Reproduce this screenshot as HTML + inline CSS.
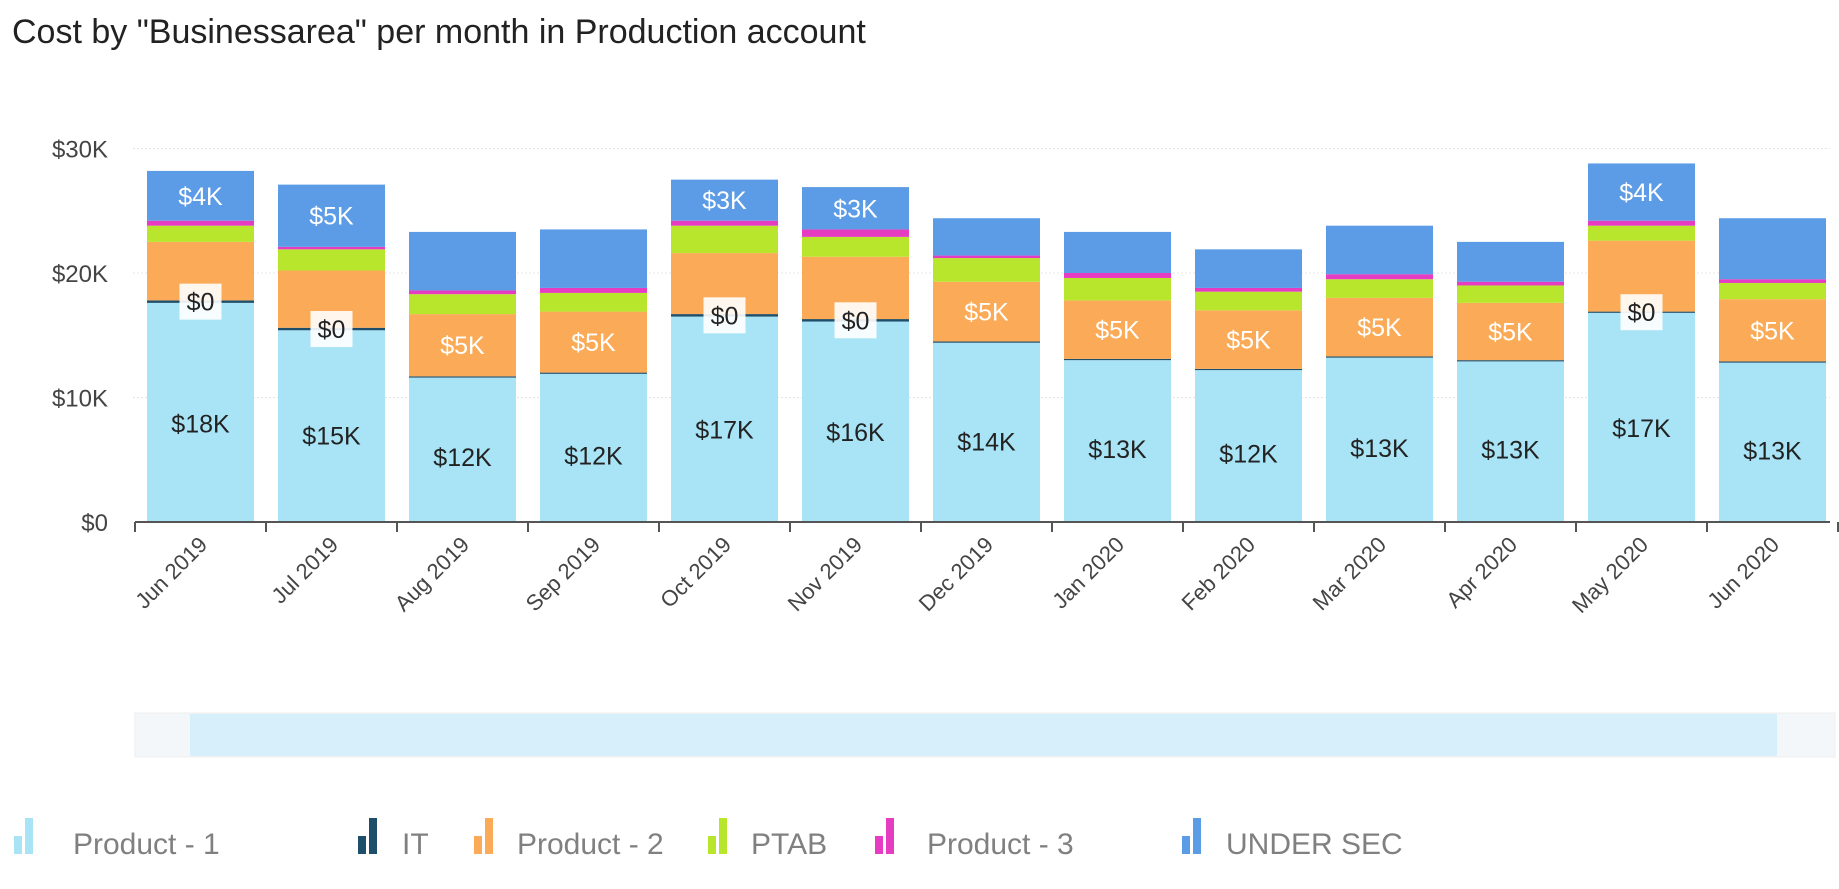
<!DOCTYPE html>
<html><head><meta charset="utf-8"><style>
body{margin:0;background:#fff;width:1839px;height:884px;overflow:hidden;font-family:"Liberation Sans",sans-serif}
</style></head><body>
<svg id="c" width="1839" height="884" xmlns="http://www.w3.org/2000/svg">
<text x="12" y="43" font-size="34" fill="#222">Cost by "Businessarea" per month in Production account</text>
<g id="g"></g>
<g id="lab"></g>
<g>
<rect x="135" y="713" width="1700" height="44" fill="#f4f7f9" stroke="#eee"/>
<rect x="190" y="714" width="1587" height="42" fill="#d6effb"/>
</g>
</svg>
<script>
const categories=["Jun 2019","Jul 2019","Aug 2019","Sep 2019","Oct 2019","Nov 2019","Dec 2019","Jan 2020","Feb 2020","Mar 2020","Apr 2020","May 2020","Jun 2020"];
const product1=[17.6,15.4,11.6,11.9,16.5,16.1,14.4,13.0,12.2,13.2,12.9,16.8,12.8];
const it=[0.2,0.2,0.1,0.1,0.2,0.2,0.1,0.1,0.1,0.1,0.1,0.1,0.1];
const product2=[4.7,4.6,5.0,4.9,4.9,5.0,4.8,4.7,4.7,4.7,4.6,5.7,5.0];
const ptab=[1.3,1.7,1.6,1.5,2.2,1.6,1.9,1.8,1.5,1.5,1.4,1.2,1.3];
const product3=[0.4,0.2,0.3,0.4,0.4,0.6,0.2,0.4,0.3,0.4,0.3,0.4,0.3];
const underSec=[4.0,5.0,4.7,4.7,3.3,3.4,3.0,3.3,3.1,3.9,3.2,4.6,4.9];
const yTicks=[0,10,20,30];
const p2Labels=["","","$5K","$5K","","","$5K","$5K","$5K","$5K","$5K","","$5K"];
const itLabels=["$0","$0","","","$0","$0","","","","","","$0",""];
const usLabels=["$4K","$5K","","","$3K","$3K","","","","","","$4K",""];
const series=[
 {name:"product-1",label:"Product - 1",vals:product1,color:"#a8e4f6"},
 {name:"it",label:"IT",vals:it,color:"#1f4e6b"},
 {name:"product-2",label:"Product - 2",vals:product2,color:"#fbab57"},
 {name:"ptab",label:"PTAB",vals:ptab,color:"#b8e62c"},
 {name:"product-3",label:"Product - 3",vals:product3,color:"#e63cc2"},
 {name:"under-sec",label:"UNDER SEC",vals:underSec,color:"#5c9ce6"}];
const NS="http://www.w3.org/2000/svg",g=document.getElementById('g'),lab=document.getElementById('lab');
const y0=522,pxPerK=12.45,x0=135,step=131,bw=107;
const y=v=>y0-v*pxPerK, xc=i=>x0+step*i+step/2;
function mk(t,a,p){const e=document.createElementNS(NS,t);for(const k in a)e.setAttribute(k,a[k]);(p||g).appendChild(e);return e;}
yTicks.forEach(t=>{
 if(t>0){const l=mk('line',{x1:133,x2:1830,y1:y(t),y2:y(t),stroke:'#e4e4e4','stroke-dasharray':'2,2'});
 
 }
 const tx=mk('text',{x:108,y:y(t)+9,'text-anchor':'end','font-size':24,fill:'#444'});tx.textContent='$'+t+(t?'K':'');
 
 
});
categories.forEach((c,i)=>{
 let acc=0;
 series.forEach((s,si)=>{
  const v=s.vals[i];
  const r=mk('rect',{x:xc(i)-bw/2,y:y(acc+v),width:bw,height:v*pxPerK,fill:s.color});
  
  
  const mid=y(acc+v/2);
  if(si===0){const t=mk('text',{x:xc(i),y:y(acc+v*0.45)+9,'text-anchor':'middle','font-size':25,fill:'#222'},lab);t.textContent='$'+Math.round(v)+'K';
   
   }
  if(si===1&&itLabels[i]){mk('rect',{x:xc(i)-21,y:mid-18,width:42,height:36,fill:'#fff','fill-opacity':0.9},lab);
   const t=mk('text',{x:xc(i),y:mid+9,'text-anchor':'middle','font-size':25,fill:'#222'},lab);t.textContent=itLabels[i];
   
   }
  if(si===2&&p2Labels[i]){const t=mk('text',{x:xc(i),y:mid+9,'text-anchor':'middle','font-size':25,fill:'#fff'},lab);t.textContent=p2Labels[i];
   
   }
  if(si===5&&usLabels[i]){const t=mk('text',{x:xc(i),y:mid+9,'text-anchor':'middle','font-size':25,fill:'#fff'},lab);t.textContent=usLabels[i];
   
   }
  acc+=v;
 });
 mk('line',{x1:x0+step*i,x2:x0+step*i,y1:y0,y2:y0+10,stroke:'#555','stroke-width':2});
 const lx=xc(i)+8,ly=y0+24;
 const t=mk('text',{x:lx,y:ly,'text-anchor':'end','font-size':22,fill:'#444',transform:`rotate(-45 ${lx} ${ly})`});t.textContent=c;
 
 
});
mk('line',{x1:x0+step*13,x2:x0+step*13,y1:y0,y2:y0+10,stroke:'#555','stroke-width':2});
const ax=mk('line',{x1:x0,x2:1830,y1:y0,y2:y0,stroke:'#555','stroke-width':2});


const legX=[14,358,474,708,875,1182],legT=[73,402,517,751,927,1226];
series.forEach((s,i)=>{
 const lg=mk('g',{});
 
 
 mk('rect',{x:legX[i],y:836,width:8,height:18,fill:s.color},lg);
 mk('rect',{x:legX[i]+11,y:818,width:8,height:36,fill:s.color},lg);
 const t=mk('text',{x:legT[i],y:854,'font-size':30,fill:'#808080'},lg);t.textContent=s.label;
});
</script>
</body></html>
